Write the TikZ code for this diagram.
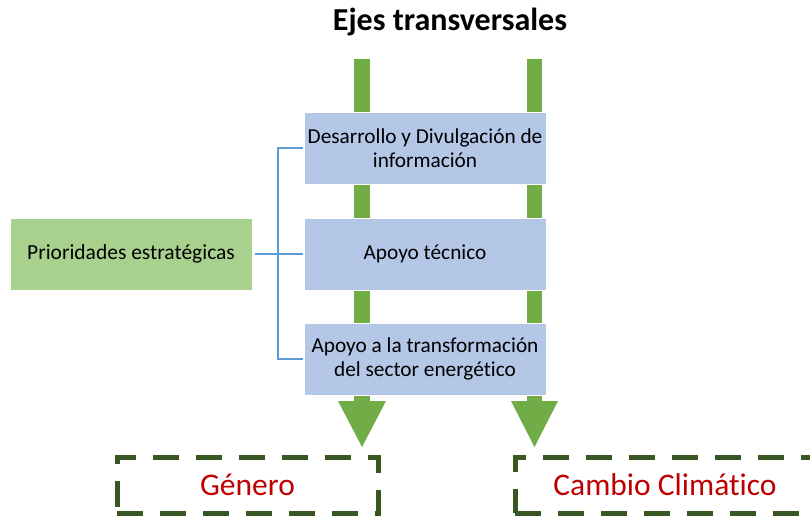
\documentclass[tikz,border=0pt]{standalone}
\usepackage{fontspec}
\setmainfont[Ligatures={NoCommon}]{Carlito}
\usetikzlibrary{calc}
\definecolor{stemgreen}{HTML}{70AD47}
\definecolor{boxblue}{HTML}{B4C7E7}
\definecolor{boxgreen}{HTML}{A9D18E}
\definecolor{linkblue}{HTML}{5B9BD5}
\definecolor{dashgreen}{HTML}{385723}
\definecolor{textred}{HTML}{C00000}
\tikzset{
  bluebox/.style={fill=boxblue, draw=white, line width=0.8pt, minimum width=242pt, minimum height=72pt, inner sep=0pt, align=center, font=\fontsize{21.3}{23.5}\selectfont},
  greenbox/.style={fill=boxgreen, draw=white, line width=0.8pt, minimum width=242pt, minimum height=72pt, inner sep=0pt, align=center, font=\fontsize{21.5}{23.5}\selectfont},
  link/.style={draw=linkblue, line width=2.2pt},
  stem/.style={fill=stemgreen, draw=none},
  dashbox/.style={draw=dashgreen, line width=5pt, dash pattern=on 26pt off 17pt, text=textred, font=\fontsize{31.5}{36}\selectfont, inner sep=0pt},
}
\begin{document}
\begin{tikzpicture}[x=1pt,y=-1pt]
\useasboundingbox (0,0) rectangle (810,516);
\clip (0,0) rectangle (810,516);
\fill[white] (0,0) rectangle (810,516);
% title
\node[font=\fontsize{32}{36}\selectfont\bfseries] (title) at (450,22) {Ejes transversales};
% green block arrows (behind boxes)
\coordinate (la) at (362,59);
\coordinate (ra) at (534.5,59);
\fill[stem] ($(la)+(-8,0)$) rectangle ($(la)+(8,344)$);
\fill[stem] ($(ra)+(-7.5,0)$) rectangle ($(ra)+(7.5,344)$);
\fill[stem] ($(la)+(-24,342)$) -- ($(la)+(24,342)$) -- ($(la)+(0,388)$) -- cycle;
\fill[stem] ($(ra)+(-23.5,342)$) -- ($(ra)+(23.5,342)$) -- ($(ra)+(0,388)$) -- cycle;
% boxes
\node[bluebox] (b1) at (425,148) {Desarrollo y Divulgación de\\información};
\node[bluebox] (b2) at (425,254) {Apoyo técnico};
\node[bluebox] (b3) at (425,359) {Apoyo a la transformación\\del sector energético};
\node[greenbox] (prio) at (131,254) {Prioridades estratégicas};
% connectors
\coordinate (j) at (278,254);
\draw[link] ([xshift=3pt]prio.east) -- ([xshift=-1pt]b2.west);
\draw[link] ([xshift=-1pt]b1.west) -| (j) |- ([xshift=-1pt]b3.west);
% dashed boxes
\node[dashbox, minimum width=261pt, minimum height=56pt] (gen) at (247.5,485) {\raisebox{-4pt}{Género}};
\node[dashbox, minimum width=300pt, minimum height=56pt] (cc) at (665,485) {\raisebox{-4pt}{Cambio Climático}};
\end{tikzpicture}
\end{document}
